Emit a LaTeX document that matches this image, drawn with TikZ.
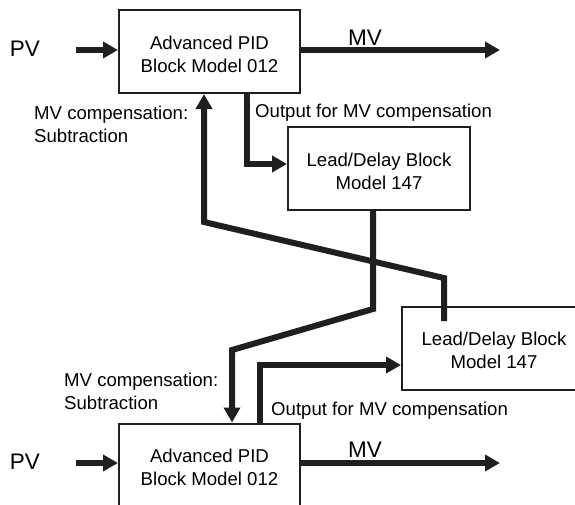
\documentclass[tikz,border=0pt]{standalone}
\usepackage{fontspec}
\setmainfont{Liberation Sans}
\usetikzlibrary{arrows.meta}
\begin{document}
\begin{tikzpicture}[x=1pt,y=-1pt,
  blockbox/.style={draw=black!88,line width=2pt,minimum width=181pt,minimum height=83pt,inner sep=0pt},
  boxtext/.style={inner sep=0pt,align=center,font=\fontsize{18.6}{23}\selectfont},
  lbl/.style={inner sep=0pt,font=\fontsize{18.6}{23}\selectfont},
  biglbl/.style={inner sep=0pt,font=\fontsize{22.5}{26}\selectfont},
  conn/.style={draw=black!88,line width=6pt},
  arr/.style={conn,-{Triangle[length=15pt,width=16pt]}}]
\useasboundingbox (0,0) rectangle (575,504);
% blocks
\node[blockbox] (pid1) at (209.5,51.5) {};
\node[blockbox,minimum width=182pt] (ld1) at (379,168.5) {};
\node[blockbox,minimum width=184pt] (ld2) at (494,348.5) {};
\node[blockbox] (pid2) at (209.5,465) {};
\node[boxtext] (pid1t) at ([yshift=-2.5pt]pid1.center) {Advanced PID\\Block Model 012};
\node[boxtext] (ld1t) at ([yshift=-2.5pt]ld1.center) {Lead/Delay Block\\Model 147};
\node[boxtext] (ld2t) at ([yshift=-2pt]ld2.center) {Lead/Delay Block\\Model 147};
\node[boxtext] (pid2t) at ([yshift=-2.5pt]pid2.center) {Advanced PID\\Block Model 012};
% labels
\node[biglbl] (pv1) at (25,48.5) {PV};
\node[biglbl] (pv2) at (25,461.5) {PV};
\node[biglbl] (mv1) at (365,37.5) {MV};
\node[biglbl] (mv2) at (365,450) {MV};
\node[lbl,anchor=west,align=left] (sub1) at (34,124.5) {MV compensation:\\Subtraction};
\node[lbl,anchor=west,align=left] (sub2) at (64,391) {MV compensation:\\Subtraction};
\node[lbl,anchor=west] (out1) at (255,113) {Output for MV compensation};
\node[lbl,anchor=west] (out2) at (271,410.5) {Output for MV compensation};
% coordinates
\coordinate (pvs1) at (76,50);
\coordinate (pvs2) at (76,463);
\coordinate (mve1) at (500,50);
\coordinate (mve2) at (500,463);
\coordinate (o1) at (247,164);
\coordinate (o2) at (260,365);
\coordinate (c1) at (444,321);
\coordinate (c2) at (444,278);
\coordinate (c3) at (204,222);
\coordinate (k1) at (373,309);
\coordinate (k2) at (232,350);
% connectors
\draw[arr] (pvs1) -- (pvs1 -| pid1.west);
\draw[arr] (pvs2) -- (pvs2 -| pid2.west);
\draw[arr] (mve1 -| pid1.east) -- (mve1);
\draw[arr] (mve2 -| pid2.east) -- (mve2);
\draw[arr] (o1 |- pid1.south) -- (o1) -- (o1 -| ld1.west);
\draw[arr] (o2 |- pid2.north) -- (o2) -- (o2 -| ld2.west);
\draw[arr] (c1) -- (c2) -- (c3) -- (c3 |- pid1.south);
\draw[arr] (k1 |- ld1.south) -- (k1) -- (k2) -- (k2 |- pid2.north);
\end{tikzpicture}
\end{document}
